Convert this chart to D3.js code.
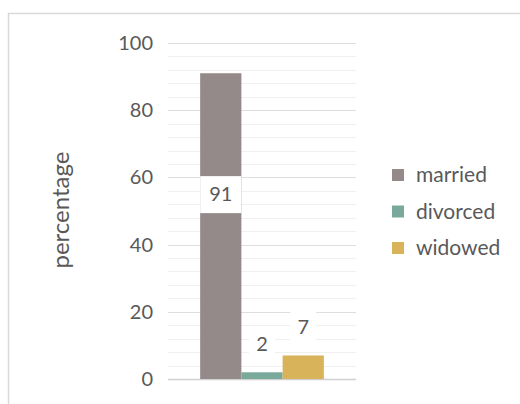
<!DOCTYPE html>
<html>
<head>
<meta charset="utf-8">
<script src="https://cdn.jsdelivr.net/npm/d3@7"></script>
<style>
  body { margin: 0; background: #fff; }
  text { font-family: Lato, "Open Sans", sans-serif; fill: #595959; }
</style>
</head>
<body>
<svg id="chart" width="520" height="404"></svg>
<script>
// chart values
const categories = ["married", "divorced", "widowed"];
const values = [91, 2, 7];
const colors = ["#948a89", "#79a99b", "#d8b35a"];
const yTicks = [0, 20, 40, 60, 80, 100];

const svg = d3.select("#chart");

// outer frame (cropped at right/bottom)
svg.append("rect")
    .attr("x", 8.5).attr("y", 13.5)
    .attr("width", 530).attr("height", 410)
    .attr("fill", "#fff")
    .attr("stroke", "#d9d9d9")
    .attr("stroke-width", 1.5);

const x = d3.scaleBand()
    .domain(categories)
    .range([168, 356])
    .paddingInner(0)
    .paddingOuter(0.78);

const y = d3.scaleLinear()
    .domain([0, 100])
    .range([379, 43]);

// minor gridlines every 4
const minor = d3.range(4, 100, 4).filter(v => v % 20 !== 0);
svg.append("g")
    .selectAll("line")
    .data(minor)
    .join("line")
      .attr("x1", 168).attr("x2", 356)
      .attr("y1", d => Math.round(y(d)) + 0.5)
      .attr("y2", d => Math.round(y(d)) + 0.5)
      .attr("stroke", "#f0f0f0");

// major gridlines
svg.append("g")
    .selectAll("line")
    .data(yTicks)
    .join("line")
      .attr("x1", 168).attr("x2", 356)
      .attr("y1", d => Math.round(y(d)) + 0.5)
      .attr("y2", d => Math.round(y(d)) + 0.5)
      .attr("stroke", d => d === 0 ? "#d0d0d0" : "#dedede")
      .attr("stroke-width", d => d === 0 ? 1.5 : 1);

// y axis labels
const yAxis = svg.append("g")
    .attr("transform", "translate(153,0)")
    .call(d3.axisLeft(y).tickValues(yTicks).tickSize(0).tickPadding(0));
yAxis.select(".domain").remove();
yAxis.selectAll("text")
    .style("font-family", "Lato, 'Open Sans', sans-serif")
    .style("font-size", "20px")
    .attr("fill", "#595959");

// bars
svg.append("g")
    .selectAll("rect")
    .data(values)
    .join("rect")
      .attr("x", (d, i) => x(categories[i]))
      .attr("y", d => y(d))
      .attr("width", x.bandwidth())
      .attr("height", d => y(0) - y(d))
      .attr("fill", (d, i) => colors[i]);

// data labels (largest inside the bar, others above)
const labels = svg.append("g")
    .selectAll("g")
    .data(values)
    .join("g")
      .attr("transform", (d, i) => {
        let cx = x(categories[i]) + x.bandwidth() / 2;
        let cy = d > 50 ? (y(d) + y(0)) / 2 - 32 : y(d) - 28;
        return "translate(" + cx + "," + cy + ")";
      });

labels.append("rect")
    .attr("x", d => d > 50 ? -x.bandwidth() / 2 : -13)
    .attr("y", -18)
    .attr("width", d => d > 50 ? x.bandwidth() : 26)
    .attr("height", 37)
    .attr("fill", "#fff");

labels.append("text")
    .attr("text-anchor", "middle")
    .attr("dy", "0.35em")
    .style("font-size", "20px")
    .attr("fill", "#404040")
    .text(d => d);

// y axis title
svg.append("text")
    .attr("transform", "translate(69,210) rotate(-90)")
    .attr("text-anchor", "middle")
    .style("font-size", "24px")
    .text("percentage");

// legend
const legend = svg.append("g")
    .selectAll("g")
    .data(categories)
    .join("g")
      .attr("transform", (d, i) => "translate(392," + (175 + i * 36.5) + ")");

legend.append("rect")
    .attr("x", 0).attr("y", -6)
    .attr("width", 12).attr("height", 12)
    .attr("fill", (d, i) => colors[i]);

legend.append("text")
    .attr("x", 24)
    .attr("dy", "0.35em")
    .style("font-size", "21px")
    .text(d => d);
</script>
</body>
</html>
